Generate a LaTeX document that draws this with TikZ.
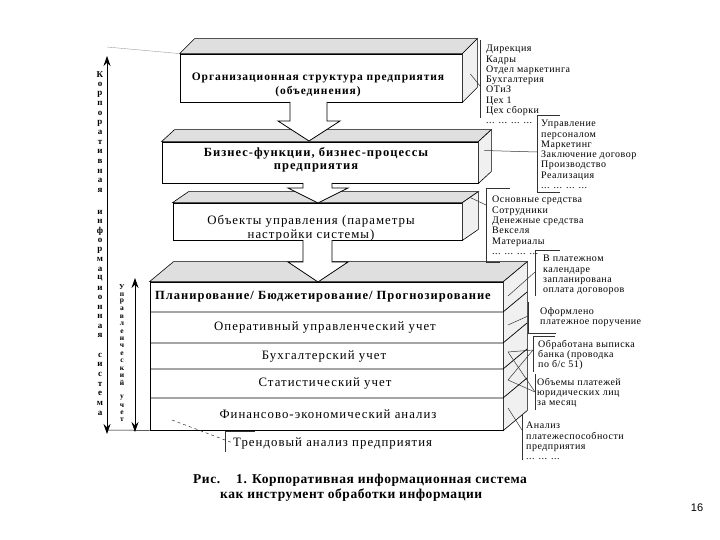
\documentclass[tikz,border=0pt]{standalone}
\usepackage{fontspec}
\setmainfont{Liberation Serif}
\newfontfamily\boxfont[LetterSpace=8]{Liberation Serif}
\newfontfamily\listfont[LetterSpace=5]{Liberation Serif}
\newfontfamily\capfont[LetterSpace=4]{Liberation Serif}
\newfontfamily\pagefont{Liberation Sans}
\usetikzlibrary{arrows.meta,calc}
\begin{document}
\begin{tikzpicture}[x=1pt,y=-1pt,
  front/.style={draw=black, line width=0.8pt, fill=white, inner sep=0pt},
  topface/.style={draw=black, line width=0.6pt, fill=gray!25},
  sideface/.style={draw=black, line width=0.6pt, fill=gray!12},
  boxtext/.style={font=\boxfont\fontsize{12.8}{13.5}\selectfont, align=center, inner sep=0pt},
  boldtext/.style={font=\boxfont\bfseries\fontsize{12.5}{13.5}\selectfont, align=center, inner sep=0pt},
  blockarrow/.style={draw=black, line width=0.8pt, fill=white},
  listtext/.style={font=\listfont\fontsize{10}{10.3}\selectfont, align=left, anchor=north west, inner sep=0pt},
  thinline/.style={line width=0.5pt, draw=black!80},
  vletter/.style={font=\bfseries\fontsize{9}{9}\selectfont, inner sep=0pt},
  vsmall/.style={font=\bfseries\fontsize{7.5}{7.5}\selectfont, inner sep=0pt},
  captext/.style={font=\capfont\bfseries\fontsize{13.5}{15}\selectfont, anchor=west, inner sep=0pt},
  dbl/.style={line width=0.7pt, {Stealth[length=10pt,width=7pt]}-{Stealth[length=10pt,width=7pt]}},
]
\useasboundingbox (0,0) rectangle (720,540);
\fill[white] (0,0) rectangle (720,540);

% ---------- Box 1
\node[front, minimum width=282pt, minimum height=48pt] (b1) at (321,78) {};
\draw[topface] (b1.north west) -- ++(15,-15) -- ($(b1.north east)+(15,-15)$) -- (b1.north east) -- cycle;
\draw[sideface] (b1.north east) -- ++(15,-15) -- ($(b1.south east)+(15,-15)$) -- (b1.south east) -- cycle;
\node[boldtext, font=\boxfont\bfseries\fontsize{11.5}{13.5}\selectfont] (t1) at (318,85) {Организационная структура предприятия\\(объединения)};

% ---------- Box 2
\node[front, minimum width=316pt, minimum height=41pt] (b2) at (320,162.5) {};
\draw[topface] (b2.north west) -- ++(13,-12) -- ($(b2.north east)+(13,-12)$) -- (b2.north east) -- cycle;
\draw[sideface] (b2.north east) -- ++(13,-12) -- ($(b2.south east)+(13,-12)$) -- (b2.south east) -- cycle;
\node[boldtext] (t2) at (316,160) {Бизнес-функции, бизнес-процессы\\предприятия};

% ---------- Box 3
\node[front, minimum width=289pt, minimum height=37pt] (b3) at (317.5,221.5) {};
\draw[topface] (b3.north west) -- ++(16,-11) -- ($(b3.north east)+(16,-11)$) -- (b3.north east) -- cycle;
\draw[sideface] (b3.north east) -- ++(16,-11) -- ($(b3.south east)+(16,-11)$) -- (b3.south east) -- cycle;
\node[boxtext] (t3) at (311,228.5) {Объекты управления (параметры\\настройки системы)};

% ---------- Box 4
\node[front, minimum width=353pt, minimum height=148pt] (b4) at (326.5,356) {};
\draw[topface] (b4.north west) -- ++(24,-20) -- ($(b4.north east)+(24,-20)$) -- (b4.north east) -- cycle;
\draw[sideface] (b4.north east) -- ++(24,-20) -- ($(b4.south east)+(24,-20)$) -- (b4.south east) -- cycle;
\foreach \yy in {312,343,369,398}{
  \draw[line width=0.7pt] (150,\yy) -- (503,\yy) -- ++(24,-20);
}
\node[boldtext] (r1) at (323,297) {Планирование/ Бюджетирование/ Прогнозирование};
\node[boxtext] (r2) at (325,327.5) {Оперативный управленческий учет};
\node[boxtext] (r3) at (324,356) {Бухгалтерский учет};
\node[boxtext] (r4) at (325,383.5) {Статистический учет};
\node[boxtext] (r5) at (328,414) {Финансово-экономический анализ};

% ---------- block arrows
\draw[blockarrow] (290,102) -- (290,121) -- (278,121) -- (309,141) -- (340,121) -- (327,121) -- (327,102);
\draw[blockarrow] (303,183) -- (303,188) -- (288,188) -- (318,203) -- (348,188) -- (332,188) -- (332,183);
\draw[blockarrow] (303,240) -- (303,262) -- (288,262) -- (318,282) -- (348,262) -- (332,262) -- (332,240);

% ---------- trend box
\node[boxtext, anchor=west] (tr) at (233,443) {Трендовый анализ предприятия};
\coordinate (trA) at (225,431);
\coordinate (trB) at (225,452);
\draw[thinline] (trA) -- (trB);
\draw[thinline] (trA) -- ++(30,0);
\coordinate (trS) at (172,420);
\draw[thinline, dashed] (trS) -- (tr.west);

% ---------- right lists
\node[listtext] (L1) at (486,45) {Дирекция\\Кадры\\Отдел маркетинга\\Бухгалтерия\\ОТиЗ\\Цех 1\\Цех сборки\\... ... ... ...};
\draw[thinline] (480,40) -- (480,118);
\draw[thinline] ($(b1.east)+(8,-4)$) -- (480,86);

\node[listtext] (L2) at (541,120) {Управление\\персоналом\\Маркетинг\\Заключение договор\\Производство\\Реализация\\... ... ... ...};
\draw[thinline] (537,115) -- (537,192) -- (560,192);
\draw[thinline] (537,115) -- (560,115);
\draw[thinline] ($(b2.east)+(6,-12)$) -- (537,152);

\node[listtext] (L3) at (492,196) {Основные средства\\Сотрудники\\Денежные средства\\Векселя\\Материалы\\... ... ... ...};
\draw[thinline] (486,188) -- (486,262) -- (500,262);
\draw[thinline] (486,188) -- (510,188);
\draw[thinline] ($(b3.north east)+(8,-5)$) -- (486,205);

\node[listtext] (L4) at (543,255) {В платежном\\календаре\\запланирована\\оплата договоров};
\draw[thinline] (535,250) -- (535,296);
\draw[thinline] (535,250) -- (560,250);
\node[listtext] (L5) at (540,307) {Оформлено\\платежное поручение};
\draw[thinline] (528,302) -- (528,333) -- (556,333);
\node[listtext] (L6) at (538,340) {Обработана выписка\\банка (проводка\\по б/с 51)};
\draw[thinline] (533,336) -- (533,372);
\draw[thinline] (533,336) -- (555,336);
\node[listtext] (L7) at (537,378) {Объемы платежей\\юридических лиц\\за месяц};
\draw[thinline] (535,374) -- (535,410);
\node[listtext] (L8) at (526,422) {Анализ\\платежеспособности\\предприятия\\... ... ...};
\draw[thinline] (522,415) -- (522,460);

% connectors from box 4 side to lists
\coordinate (s1) at (508,296);
\coordinate (s2) at (508,325);
\coordinate (s3) at (508,352);
\coordinate (s4) at (508,380);
\coordinate (s5) at (508,408);
\draw[thinline] (s1) -- (535,272);
\draw[thinline] (s2) -- (528,316);
\draw[thinline] (s3) -- (533,350);
\draw[thinline] (s4) -- (535,392);
\draw[thinline] (s5) -- (522,430);
\draw[thinline] (s3) -- (535,392);
\draw[thinline] (s4) -- (533,350);

% ---------- left arrows
\coordinate (la1) at (107,56);
\coordinate (la2) at (107,434);
\draw[dbl] (la1) -- (la2);
\coordinate (ra1) at (135,278);
\coordinate (ra2) at (135,432);
\draw[dbl] (ra1) -- (ra2);
\draw[line width=0.5pt] (107,430) -- (b4.south west);
\draw[line width=0.4pt, draw=black!40] (107,47) -- (b1.north west);

\foreach \ch [count=\i] in {К,о,р,п,о,р,а,т,и,в,н,а,я}
  \node[vletter] (ka\i) at (100,{75+(\i-1)*9.6}) {\ch};
\foreach \ch [count=\i] in {и,н,ф,о,р,м,а,ц,и,о,н,н,а,я}
  \node[vletter] (kb\i) at (100,{212+(\i-1)*9.5}) {\ch};
\foreach \ch [count=\i] in {с,и,с,т,е,м,а}
  \node[vletter] (kc\i) at (100,{355+(\i-1)*9.7}) {\ch};
\foreach \ch [count=\i] in {У,п,р,а,в,л,е,н,ч,е,с,к,и,й}
  \node[vsmall] (ua\i) at (122,{287+(\i-1)*7.4}) {\ch};
\foreach \ch [count=\i] in {у,ч,е,т}
  \node[vsmall] (ub\i) at (122,{398+(\i-1)*7.3}) {\ch};

% ---------- caption
\node[captext] (cap1) at (193,480) {Рис.\hspace{16pt}1. Корпоративная информационная система};
\node[captext] (cap2) at (220,495) {как инструмент обработки информации};

\node[font=\pagefont\fontsize{11}{13}\selectfont, inner sep=0pt] (pg) at (697,508) {16};
\end{tikzpicture}
\end{document}
